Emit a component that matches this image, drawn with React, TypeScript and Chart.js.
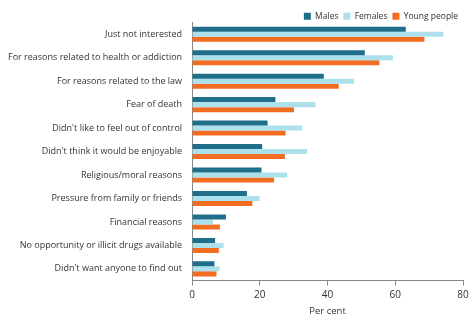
import React, { useEffect, useRef } from "react";
import { Chart, registerables } from "chart.js";

Chart.register(...registerables);

const categories = [
  "Just not interested",
  "For reasons related to health or addiction",
  "For reasons related to the law",
  "Fear of death",
  "Didn't like to feel out of control",
  "Didn't think it would be enjoyable",
  "Religious/moral reasons",
  "Pressure from family or friends",
  "Financial reasons",
  "No opportunity or illicit drugs available",
  "Didn't want anyone to find out",
];

const males = [63.1, 51.0, 38.9, 24.6, 22.3, 20.7, 20.5, 16.2, 10.0, 6.8, 6.6];
const females = [74.2, 59.3, 47.8, 36.4, 32.5, 34.0, 28.1, 19.9, 6.2, 9.3, 8.1];
const youngPeople = [68.6, 55.3, 43.3, 30.1, 27.6, 27.4, 24.2, 17.8, 8.2, 7.9, 7.2];

const xTicks = [0, 20, 40, 60, 80];

const legendShrink = {
  id: "legendShrink",
  afterInit(chart: any) {
    const legend = chart.legend;
    if (!legend) return;
    const orig = legend.fit;
    legend.fit = function () {
      orig.call(this);
      this.height -= 8;
    };
  },
};

export default function App() {
  const ref = useRef<HTMLCanvasElement | null>(null);

  useEffect(() => {
    document.body.style.margin = "0";
    const ctx = ref.current!.getContext("2d")!;
    const font = "'Open Sans', sans-serif";
    const chart = new Chart(ctx, {
      type: "bar",
      data: {
        labels: categories,
        datasets: [
          { label: "Males", data: males, backgroundColor: "#1f6f8b" },
          { label: "Females", data: females, backgroundColor: "#ace0eb" },
          { label: "Young people", data: youngPeople, backgroundColor: "#f26c22" },
        ],
      },
      plugins: [legendShrink],
      options: {
        indexAxis: "y",
        responsive: false,
        animation: false,
        maintainAspectRatio: false,
        layout: { padding: { left: 6, right: 11, top: 7, bottom: 6 } },
        datasets: { bar: { categoryPercentage: 0.64, barPercentage: 1 } },
        plugins: {
          legend: {
            position: "top",
            align: "end",
            labels: {
              boxWidth: 7,
              boxHeight: 7,
              padding: 5,
              color: "#333",
              font: { family: font, size: 8.5 },
            },
          },
          tooltip: { enabled: false },
        },
        scales: {
          x: {
            min: 0,
            max: 80,
            afterBuildTicks: (axis: any) => {
              axis.ticks = xTicks.map((v) => ({ value: v }));
            },
            grid: {
              drawOnChartArea: false,
              drawTicks: true,
              tickLength: 5,
              color: "#888",
            },
            border: { display: true, color: "#888" },
            ticks: { color: "#333", font: { family: font, size: 10 }, padding: 4 },
            title: {
              display: true,
              text: "Per cent",
              color: "#333",
              font: { family: font, size: 9.5 },
              padding: { top: 0, bottom: 0 },
            },
          },
          y: {
            grid: { display: false },
            border: { display: true, color: "#888" },
            ticks: { color: "#333", font: { family: font, size: 9 }, padding: 2 },
          },
        },
      },
    });
    return () => chart.destroy();
  }, []);

  return (
    <div style={{ width: 474, height: 323 }}>
      <canvas ref={ref} width={474} height={323} style={{ display: "block" }} />
    </div>
  );
}
